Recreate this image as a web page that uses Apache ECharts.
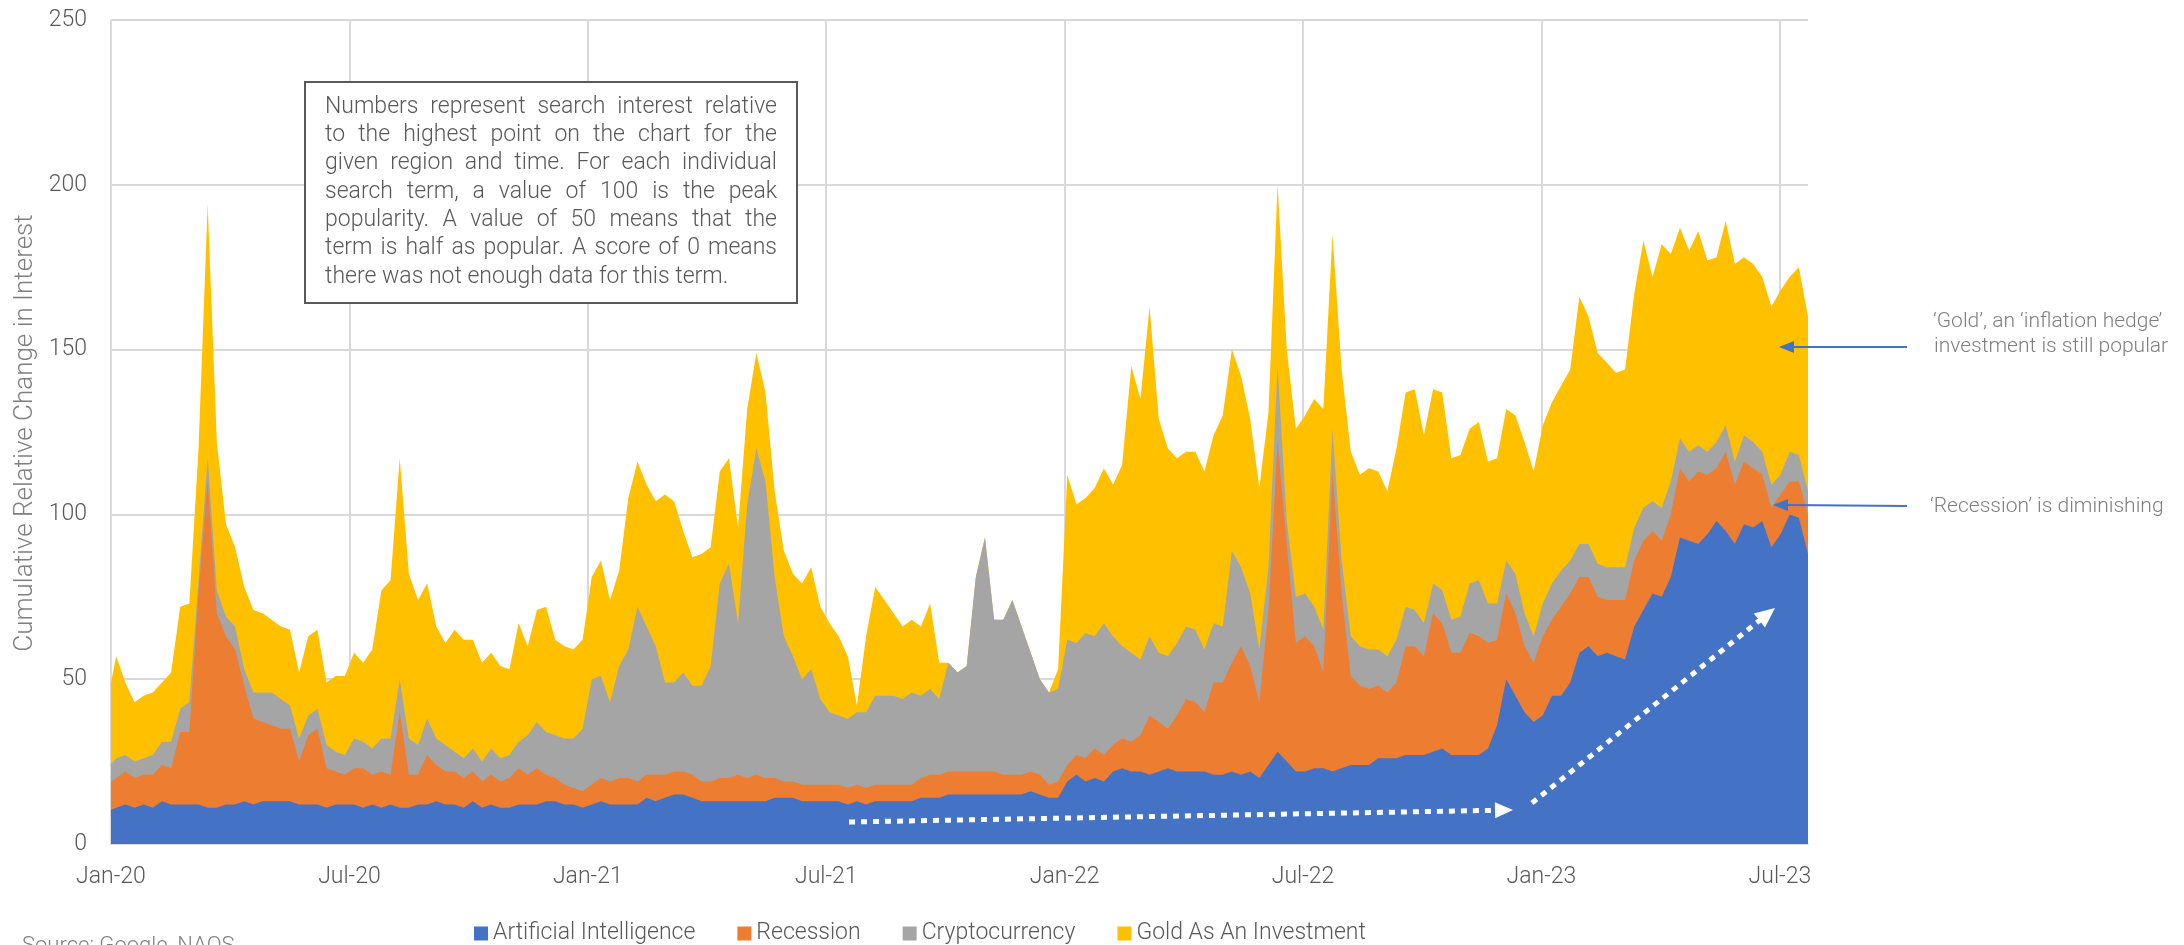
<!DOCTYPE html>
<html>
<head>
<meta charset="utf-8">
<title>Search interest</title>
<script src="https://cdn.jsdelivr.net/npm/echarts@6.0.0/dist/echarts.min.js"></script>
<style>
  html, body { margin: 0; padding: 0; background: #fff; }
  #chart { width: 2184px; height: 945px; }
</style>
</head>
<body>
<div id="chart"></div>
<script>
// weekly points, first week is clipped by the axis start
var firstWeek = '2019-12-29';
var axisStart = '2020-01-01';
var tickLabels = ['Jan-20', 'Jul-20', 'Jan-21', 'Jul-21', 'Jan-22', 'Jul-22', 'Jan-23', 'Jul-23'];
var halfYear = 182.5;

var seriesNames = ['Artificial Intelligence', 'Recession', 'Cryptocurrency', 'Gold As An Investment'];
var seriesColors = ['#4472C4', '#ED7D31', '#A5A5A5', '#FFC000'];

var aiValues = [10,11,12,11,12,11,13,12,12,12,
  12,11,11,12,12,13,12,13,13,13,
  13,12,12,12,11,12,12,12,11,12,
  11,12,11,11,12,12,13,12,12,11,
  13,11,12,11,11,12,12,12,13,13,
  12,12,11,12,13,12,12,12,12,14,
  13,14,15,15,14,13,13,13,13,13,
  13,13,13,14,14,14,13,13,13,13,
  13,12,13,12,13,13,13,13,13,14,
  14,14,15,15,15,15,15,15,15,15,
  15,16,15,14,14,19,21,19,20,19,
  22,23,22,22,21,22,23,22,22,22,
  22,21,21,22,21,22,20,24,28,25,
  22,22,23,23,22,23,24,24,24,26,
  26,26,27,27,27,28,29,27,27,27,
  27,29,36,50,45,40,37,39,45,45,
  49,58,60,57,58,57,56,66,71,76,
  75,81,93,92,91,94,98,95,91,97,
  96,98,90,94,100,99,88];

var recessionValues = [8,9,10,9,9,10,11,11,22,22,
  64,99,59,51,47,35,26,24,23,22,
  22,13,21,23,12,10,9,11,12,9,
  11,9,29,10,9,15,11,10,10,9,
  9,8,9,8,9,11,9,11,8,7,
  6,5,5,6,7,7,8,8,7,7,
  8,7,7,7,7,6,6,7,7,8,
  7,8,7,6,5,5,5,5,5,5,
  5,5,5,5,5,5,5,5,5,6,
  7,7,7,7,7,7,7,7,6,6,
  6,6,6,4,5,5,6,7,9,8,
  8,9,9,11,18,15,12,17,22,21,
  18,28,28,33,39,32,23,47,94,66,
  39,41,37,29,91,53,27,24,23,22,
  20,23,33,33,30,42,38,31,31,37,
  36,32,26,26,25,20,18,24,23,27,
  27,23,21,18,16,17,18,20,21,19,
  17,19,21,18,22,18,16,24,18,19,
  18,14,12,12,10,11,12];

var cryptoValues = [5,6,5,5,5,6,7,8,7,9,
  4,7,7,6,7,5,8,9,10,9,
  7,7,6,6,7,6,6,9,8,8,
  10,11,10,11,9,11,8,8,6,6,
  7,6,8,7,7,8,12,14,13,13,
  14,15,19,32,31,24,34,39,53,45,
  39,28,27,30,27,29,35,59,65,46,
  83,99,90,61,44,38,32,35,26,22,
  21,21,22,23,27,27,27,26,28,25,
  26,23,33,30,32,59,71,46,47,53,
  45,36,29,28,28,38,34,38,34,40,
  33,28,27,23,24,21,22,22,22,22,
  19,18,17,34,24,22,16,13,23,7,
  14,13,12,13,13,10,12,12,12,11,
  11,13,12,11,10,9,10,10,11,15,
  17,12,11,10,12,10,8,10,11,11,
  10,10,10,10,10,10,10,10,10,9,
  10,10,9,9,8,7,8,8,7,8,
  8,7,7,6,9,8,7];

var goldValues = [20,31,22,18,19,19,18,21,31,30,
  40,77,45,28,24,25,25,24,22,22,
  23,20,24,24,19,23,24,26,24,30,
  45,48,67,50,44,41,34,31,37,36,
  33,30,29,28,26,36,27,34,38,29,
  28,27,27,31,35,31,29,46,44,43,
  44,57,55,43,39,40,36,34,32,29,
  29,29,27,26,26,25,29,31,28,27,
  24,19,2,23,33,29,25,22,22,21,
  26,11,0,0,0,0,0,0,0,0,
  0,0,0,0,6,50,42,41,45,47,
  46,55,87,79,100,71,63,56,53,54,
  54,57,64,61,58,53,49,47,55,52,
  51,54,63,67,59,58,56,52,55,54,
  50,58,65,67,57,59,60,49,49,47,
  48,43,44,46,48,52,50,54,55,56,
  58,75,69,64,62,59,60,71,81,68,
  80,69,64,61,65,58,56,62,60,54,
  54,53,54,56,53,57,53];

var noteLines = [
  'Numbers represent search interest relative',
  'to the highest point on the chart for the',
  'given region and time. For each individual',
  'search term, a value of 100 is the peak',
  'popularity. A value of 50 means that the',
  'term is half as popular. A score of 0 means',
  'there was not enough data for this term.'
];

var DAY = 86400000;
var offset0 = (Date.parse(firstWeek) - Date.parse(axisStart)) / DAY;
var lastDay = offset0 + 7 * (aiValues.length - 1);

// running totals: each layer is drawn from zero, upper layers first
function cumulate(list) {
  var acc = list[0].map(function () { return 0; });
  return list.map(function (vals) {
    acc = acc.map(function (a, i) { return a + vals[i]; });
    return acc;
  });
}
var layers = cumulate([aiValues, recessionValues, cryptoValues, goldValues]);

function toPairs(values) {
  return values.map(function (v, i) { return [offset0 + 7 * i, v]; });
}

var FONT = 'Roboto';
var textGray = '#595959';

function area(idx) {
  return {
    name: seriesNames[idx],
    type: 'line',
    data: toPairs(layers[idx]),
    symbol: 'none',
    showSymbol: false,
    lineStyle: { width: 0 },
    itemStyle: { color: seriesColors[idx] },
    areaStyle: { color: seriesColors[idx], opacity: 1, origin: 'start' },
    emphasis: { disabled: true }
  };
}

// justified note box, each word placed by measured width
var measure = document.createElement('canvas').getContext('2d');
measure.font = '300 23px ' + FONT;
function noteWords() {
  var out = [];
  var x0 = 325, width = 452, y0 = 107, lh = 28.3;
  noteLines.forEach(function (line, li) {
    var words = line.split(' ');
    var ws = words.map(function (w) { return measure.measureText(w).width; });
    var sum = ws.reduce(function (a, b) { return a + b; }, 0);
    var last = li === noteLines.length - 1;
    var gap = last ? measure.measureText(' ').width : (width - sum) / (words.length - 1);
    var x = x0;
    words.forEach(function (w, i) {
      out.push({
        type: 'text', x: x, y: y0 + li * lh, z: 101,
        style: { text: w, fontSize: 23, fontWeight: 300, fontFamily: FONT, fill: textGray, align: 'left', verticalAlign: 'middle' }
      });
      x += ws[i] + gap;
    });
  });
  return out;
}

function arrow(from, tip, len, half, color, width, dash) {
  var dx = tip[0] - from[0], dy = tip[1] - from[1];
  var d = Math.sqrt(dx * dx + dy * dy), ux = dx / d, uy = dy / d;
  var bx = tip[0] - ux * len, by = tip[1] - uy * len;
  return [{
    type: 'line', z: 100,
    shape: { x1: from[0], y1: from[1], x2: bx + ux * 1, y2: by + uy * 1 },
    style: { stroke: color, lineWidth: width, lineDash: dash || null }
  }, {
    type: 'polygon', z: 100,
    shape: { points: [tip, [bx - uy * half, by + ux * half], [bx + uy * half, by - ux * half]] },
    style: { fill: color }
  }];
}

function label(text, x, y, size, color) {
  return {
    type: 'text', x: x, y: y, z: 101,
    style: { text: text, fontSize: size, fontWeight: 300, fontFamily: FONT, fill: color, align: 'left', verticalAlign: 'middle' }
  };
}

var graphics = [
  {
    type: 'rect', z: 100,
    shape: { x: 305, y: 82, width: 492, height: 221 },
    style: { fill: '#fff', stroke: '#595959', lineWidth: 2 }
  },
  {
    type: 'text', x: 25, y: 433, rotation: Math.PI / 2, z: 101,
    style: { text: 'Cumulative Relative Change in Interest', fontSize: 26, fontWeight: 300, fontFamily: FONT, fill: '#7f7f7f', align: 'center', verticalAlign: 'middle' }
  },
  label('Source: Google, NAQS', 22, 946, 22, '#7f7f7f'),
  label('\u2018Gold\u2019, an \u2018inflation hedge\u2019', 1933, 322, 21, '#7f7f7f'),
  label('investment is still popular', 1934, 347, 21, '#7f7f7f'),
  label('\u2018Recession\u2019 is diminishing', 1930, 507, 21, '#7f7f7f')
]
  .concat(noteWords())
  .concat(arrow([1907, 347], [1779, 347], 15, 6, '#4472C4', 2))
  .concat(arrow([1907, 506], [1773, 505], 15, 6, '#4472C4', 2))
  .concat(arrow([849, 822], [1513, 810], 18, 8, '#fff', 5, [6, 6]))
  .concat(arrow([1532, 803], [1775, 608], 20, 9, '#fff', 5, [6, 6]));

var chart = echarts.init(document.getElementById('chart'));
chart.setOption({
  animation: false,
  backgroundColor: '#fff',
  grid: { left: 111, right: 376, top: 20, bottom: 101, outerBoundsMode: 'none' },
  legend: {
    left: 469, top: 917,
    itemWidth: 14, itemHeight: 14, itemGap: 42,
    icon: 'rect',
    selectedMode: false,
    textStyle: { fontSize: 23, fontWeight: 300, fontFamily: FONT, color: textGray },
    data: seriesNames
  },
  xAxis: {
    type: 'value',
    min: 0,
    max: lastDay,
    interval: halfYear,
    axisLine: { show: true, lineStyle: { color: '#d9d9d9', width: 2 } },
    axisTick: { show: false },
    splitLine: { show: true, showMaxLine: false, lineStyle: { color: '#d9d9d9', width: 2 } },
    axisLabel: {
      margin: 22,
      showMaxLabel: false,
      fontSize: 23, fontWeight: 300, fontFamily: FONT, color: textGray,
      formatter: function (v) {
        var i = Math.round(v / halfYear);
        return Math.abs(v - i * halfYear) < 0.01 ? (tickLabels[i] || '') : '';
      }
    }
  },
  yAxis: {
    type: 'value',
    min: 0,
    max: 250,
    interval: 50,
    axisLine: { show: false },
    axisTick: { show: false },
    splitLine: { lineStyle: { color: '#d9d9d9', width: 2 } },
    axisLabel: { margin: 24, fontSize: 23, fontWeight: 300, fontFamily: FONT, color: textGray }
  },
  // top layer first so the lower running totals paint over it
  series: [area(3), area(2), area(1), area(0)],
  graphic: graphics
});
</script>
</body>
</html>
